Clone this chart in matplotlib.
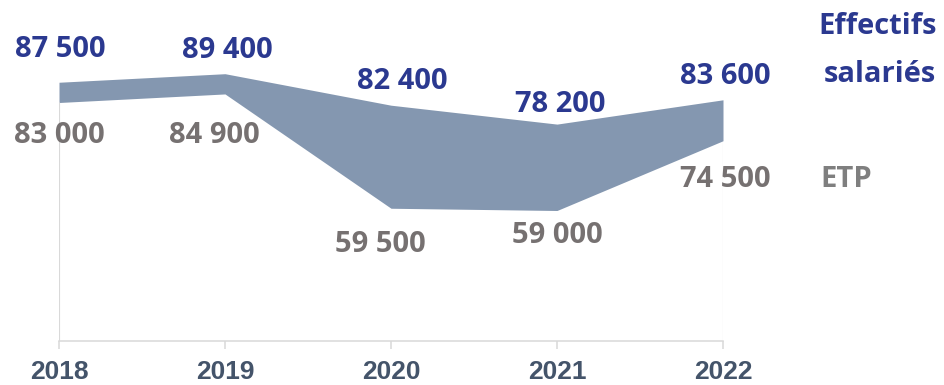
import matplotlib
matplotlib.use('Agg')
import matplotlib.pyplot as plt

years = [2018, 2019, 2020, 2021, 2022]
effectifs = [87500, 89400, 82400, 78200, 83600]
etp = [83000, 84900, 59500, 59000, 74500]

# label offsets in pixels (dx, dy) from each point
top_offsets = [(1, 33), (2, 23), (11, 24), (3, 20), (2, 23)]
bottom_offsets = [(0, -33), (-11, -42), (-11, -36), (0, -25), (2, -39)]

FILL = '#8497B0'
BLUE = '#2B3990'
GREY = '#767171'
AXIS = '#D9D9D9'
YEAR = '#44546A'
FONT = 'Open Sans'
WEIGHT = 'bold'
SIZE = 21

fig = plt.figure(figsize=(9.44, 3.85), dpi=100)
ax = fig.add_axes([59/944, 44/385, 664/944, 315/385])

ax.fill_between(years, etp, effectifs, color=FILL, linewidth=0)
ax.vlines([years[0], years[-1]], 30000, [etp[0], etp[-1]], color=AXIS, linewidth=0.8)

ax.set_xlim(years[0], years[-1])
ax.set_ylim(30000, 100000)
ax.set_yticks([])
ax.set_xticks(years)
ax.set_xticklabels([str(y) for y in years], fontsize=19, fontweight='bold',
                   color=YEAR, family='Liberation Sans')
ax.tick_params(axis='x', length=6, width=1.1, color=AXIS, pad=8)
for side in ['left', 'right', 'top']:
    ax.spines[side].set_visible(False)
ax.spines['bottom'].set_color(AXIS)
ax.spines['bottom'].set_linewidth(1.1)
ax.patch.set_alpha(0)

for x, v, (dx, dy) in zip(years, effectifs, top_offsets):
    ax.annotate(f'{v:,}'.replace(',', ' '), (x, v), xytext=(dx, dy),
                textcoords='offset pixels', ha='center', va='center',
                fontsize=SIZE, fontweight=WEIGHT, color=BLUE, family=FONT)
for x, v, (dx, dy) in zip(years, etp, bottom_offsets):
    ax.annotate(f'{v:,}'.replace(',', ' '), (x, v), xytext=(dx, dy),
                textcoords='offset pixels', ha='center', va='center',
                fontsize=SIZE, fontweight=WEIGHT, color=GREY, family=FONT)

fig.text(878/944, 1 - 27/385, 'Effectifs', ha='center', va='center',
         fontsize=SIZE, fontweight=WEIGHT, color=BLUE, family=FONT)
fig.text(880/944, 1 - 75/385, 'salariés', ha='center', va='center',
         fontsize=SIZE, fontweight=WEIGHT, color=BLUE, family=FONT)
fig.text(820/944, 1 - 180/385, 'ETP', ha='left', va='center',
         fontsize=SIZE, fontweight=WEIGHT, color='#7F7F7F', family=FONT)

fig.savefig('out.png', dpi=100)
